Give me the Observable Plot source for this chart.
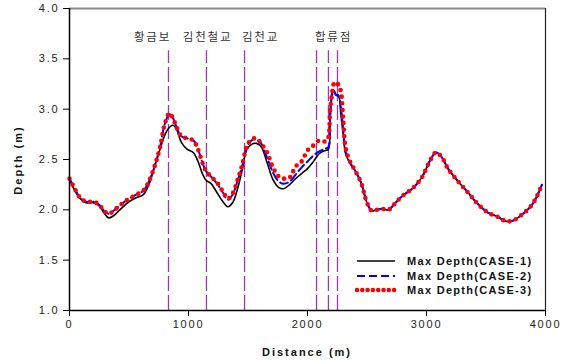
<!DOCTYPE html>
<html>
<head>
<meta charset="utf-8">
<script src="https://cdn.jsdelivr.net/npm/d3@7"></script>
<script src="https://cdn.jsdelivr.net/npm/@observablehq/plot@0.6"></script>
<style>
  html, body { margin: 0; padding: 0; background: #fff; }
  #wrap { position: relative; width: 564px; height: 360px; font-family: "Liberation Sans", Arial, sans-serif; }
  #wrap svg.plot text { letter-spacing: 1.8px; }
  .ttl { position: absolute; font-weight: bold; font-size: 11px; letter-spacing: 2px; color: #111; white-space: nowrap; }
  #ylab { left: 18px; top: 160px; transform: translate(-50%, -50%) rotate(-90deg); }
  #xlab { left: 307px; top: 352px; transform: translate(-50%, -50%); }
  #legend { position: absolute; left: 355px; top: 254px; }
  #legend .row { display: flex; align-items: center; height: 14.6px; }
  #legend .row span { font-weight: bold; font-size: 11px; letter-spacing: 1.3px; color: #111; margin-left: 10px; }
</style>
</head>
<body>
<div id="wrap">
  <div id="chart"></div>
  <div class="ttl" id="ylab">Depth (m)</div>
  <div class="ttl" id="xlab">Distance (m)</div>
  <div id="legend"></div>
</div>
<script>
// ---- data ----
const distance = [0, 40, 90, 140, 200, 250, 290, 330, 380, 440, 500, 560, 620, 670, 720, 760, 800, 840, 870, 900, 940, 990, 1040, 1080, 1120, 1150, 1190, 1240, 1290, 1330, 1370, 1410, 1450, 1490, 1530, 1570, 1610, 1660, 1710, 1760, 1800, 1850, 1900, 1950, 2000, 2050, 2100, 2150, 2175, 2190, 2205, 2220, 2240, 2260, 2280, 2300, 2320, 2350, 2400, 2450, 2500, 2540, 2580, 2630, 2680, 2740, 2800, 2880, 2960, 3030, 3080, 3130, 3180, 3260, 3350, 3430, 3520, 3600, 3660, 3720, 3800, 3880, 3930, 3970];

const case1 = [2.31, 2.20, 2.11, 2.07, 2.07, 2.04, 1.97, 1.92, 1.95, 2.02, 2.08, 2.12, 2.15, 2.26, 2.45, 2.60, 2.74, 2.82, 2.84, 2.80, 2.67, 2.60, 2.57, 2.48, 2.35, 2.29, 2.26, 2.17, 2.08, 2.03, 2.07, 2.20, 2.39, 2.60, 2.65, 2.66, 2.63, 2.47, 2.30, 2.22, 2.21, 2.25, 2.31, 2.36, 2.41, 2.48, 2.56, 2.59, 2.60, 2.95, 3.16, 3.19, 3.14, 3.14, 2.95, 2.75, 2.56, 2.48, 2.39, 2.27, 2.07, 1.99, 2.00, 2.01, 2.00, 2.07, 2.14, 2.21, 2.32, 2.49, 2.57, 2.52, 2.41, 2.29, 2.17, 2.06, 1.97, 1.93, 1.89, 1.89, 1.95, 2.04, 2.14, 2.25];

const case2 = [2.31, 2.22, 2.12, 2.08, 2.08, 2.05, 1.99, 1.96, 2.00, 2.06, 2.11, 2.15, 2.19, 2.29, 2.45, 2.62, 2.85, 2.95, 2.91, 2.82, 2.73, 2.71, 2.69, 2.60, 2.46, 2.38, 2.33, 2.26, 2.17, 2.10, 2.15, 2.28, 2.43, 2.62, 2.69, 2.70, 2.66, 2.52, 2.37, 2.28, 2.26, 2.28, 2.35, 2.42, 2.48, 2.54, 2.58, 2.61, 2.62, 2.90, 3.13, 3.18, 3.14, 3.13, 3.02, 2.80, 2.58, 2.48, 2.39, 2.27, 2.07, 1.99, 2.00, 2.01, 2.00, 2.07, 2.14, 2.21, 2.32, 2.49, 2.57, 2.52, 2.41, 2.29, 2.17, 2.06, 1.97, 1.93, 1.89, 1.89, 1.95, 2.04, 2.14, 2.25];

const case3 = [2.31, 2.22, 2.12, 2.08, 2.08, 2.05, 1.99, 1.96, 2.00, 2.06, 2.11, 2.15, 2.19, 2.29, 2.45, 2.62, 2.85, 2.96, 2.91, 2.82, 2.73, 2.71, 2.69, 2.60, 2.46, 2.38, 2.33, 2.27, 2.18, 2.11, 2.16, 2.29, 2.44, 2.63, 2.70, 2.71, 2.66, 2.57, 2.42, 2.33, 2.31, 2.32, 2.43, 2.48, 2.59, 2.64, 2.69, 2.68, 2.72, 2.99, 3.14, 3.25, 3.27, 3.24, 3.18, 2.90, 2.62, 2.50, 2.39, 2.27, 2.07, 1.99, 2.00, 2.01, 2.00, 2.07, 2.14, 2.21, 2.32, 2.49, 2.57, 2.52, 2.41, 2.29, 2.17, 2.06, 1.97, 1.93, 1.89, 1.89, 1.95, 2.04, 2.14, 2.25];

const seriesNames = ["Max Depth(CASE-1)", "Max Depth(CASE-2)", "Max Depth(CASE-3)"];
const siteLines = [832, 1151, 1471, 2076, 2176, 2252];
const siteNames = ["황금보", "김천철교", "김천교", "합류점"];
const siteLabelX = [697, 1160, 1605, 2218];
const xTicks = [0, 1000, 2000, 3000, 4000];
const yTicks = [1.0, 1.5, 2.0, 2.5, 3.0, 3.5, 4.0];

// ---- styles ----
const styles = [
  {stroke: "#000000", strokeWidth: 1.6},
  {stroke: "#0000ff", strokeWidth: 2, strokeDasharray: "8 4"},
  {stroke: "#ff0000", strokeWidth: 4.6, strokeDasharray: "0 6.6", strokeLinecap: "round"}
];

const rows = (arr) => distance.map((d, i) => ({d, v: arr[i]}));
const seriesData = [case1, case2, case3].map(rows);
const siteLabels = siteNames.map((n, i) => ({n, x: siteLabelX[i]}));

const plot = Plot.plot({
  width: 564,
  height: 360,
  marginLeft: 69,
  marginRight: 19,
  marginTop: 8,
  marginBottom: 50,
  x: {domain: [0, 4000]},
  y: {domain: [1, 4]},
  style: {fontFamily: "'Liberation Sans', Arial, sans-serif", fontSize: "11px", color: "#000", background: "#fff"},
  marks: [
    Plot.ruleX(siteLines, {x: d => d, y1: 1, y2: 3.58, stroke: "#9a3aa8", strokeWidth: 1.3, strokeDasharray: "15 4"}),
    Plot.text(siteLabels, {x: "x", y: 3.71, text: "n", fontFamily: "'Noto Sans CJK KR', sans-serif", fontSize: 11.5, fill: "#333"}),
    ...seriesData.map((data, i) => Plot.line(data, {x: "d", y: "v", curve: "catmull-rom", ...styles[i]})),
    Plot.ruleY([4], {stroke: "#8a8a8a", strokeWidth: 2}),
    Plot.ruleX([4000], {stroke: "#222", strokeWidth: 1.2}),
    Plot.ruleX([0], {stroke: "#000", strokeWidth: 1.5}),
    Plot.ruleY([1], {stroke: "#000", strokeWidth: 1.5}),
    Plot.axisX({ticks: xTicks, tickFormat: d => String(d), tickSize: 6, tickPadding: 4, label: null, fill: "#222"}),
    Plot.axisY({ticks: yTicks, tickFormat: d => d.toFixed(1), tickSize: 6, tickPadding: 4, label: null, fill: "#222"})
  ]
});
plot.classList.add("plot");
document.getElementById("chart").appendChild(plot);

// ---- legend ----
const legend = document.getElementById("legend");
seriesNames.forEach((name, i) => {
  const row = document.createElement("div");
  row.className = "row";
  const s = styles[i];
  const sw = s.strokeWidth;
  const dash = i === 2 ? "0 5.3" : (s.strokeDasharray || "none");
  row.innerHTML = `<svg width="42" height="10"><line x1="2" x2="40" y1="5" y2="5" stroke="${s.stroke}" stroke-width="${sw}" stroke-dasharray="${dash}" stroke-linecap="${s.strokeLinecap || 'butt'}"/></svg><span>${name}</span>`;
  legend.appendChild(row);
});
</script>
</body>
</html>
